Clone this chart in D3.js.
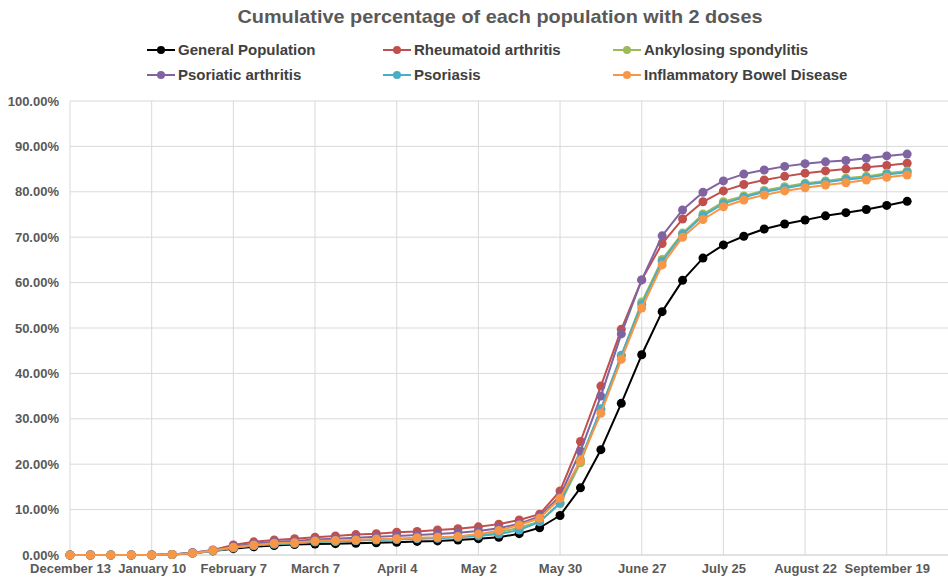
<!DOCTYPE html>
<html>
<head>
<meta charset="utf-8">
<script src="https://cdn.jsdelivr.net/npm/d3@7"></script>
<style>
  body { margin: 0; background: #fff; }
  text { font-family: "Liberation Sans", Arial, sans-serif; }
</style>
</head>
<body>
<div id="chart"></div>
<script>
// weekly categories (the last two carry no data)
const dates = ["December 13","December 20","December 27","January 3","January 10","January 17","January 24","January 31",
  "February 7","February 14","February 21","February 28","March 7","March 14","March 21","March 28",
  "April 4","April 11","April 18","April 25","May 2","May 9","May 16","May 23",
  "May 30","June 6","June 13","June 20","June 27","July 4","July 11","July 18",
  "July 25","August 1","August 8","August 15","August 22","August 29","September 5","September 12",
  "September 19","September 26","October 3","October 10"];

const generalPop = [0,0,0,0,0,0.1,0.4,0.9,1.4,1.8,2.1,2.3,2.4,2.5,2.6,2.7,2.8,3.0,3.1,3.3,3.6,3.9,4.7,6.0,
  8.7,14.8,23.2,33.4,44.1,53.6,60.5,65.4,68.3,70.2,71.8,72.9,73.8,74.7,75.4,76.1,77.0,77.9];
const rheumatoid = [0,0,0,0,0,0.1,0.5,1.1,2.2,2.9,3.3,3.6,3.9,4.2,4.5,4.7,5.0,5.2,5.5,5.8,6.2,6.8,7.7,9.0,
  14.1,25.0,37.2,49.7,60.6,68.6,74.0,77.8,80.2,81.6,82.6,83.4,84.1,84.6,85.0,85.4,85.8,86.3];
const ankylosing = [0,0,0,0,0,0.1,0.4,0.9,1.6,2.1,2.4,2.6,2.9,3.0,3.2,3.4,3.5,3.7,3.8,4.0,4.4,5.0,6.0,7.4,
  11.3,20.3,32.0,43.9,55.7,65.1,70.9,75.1,77.8,79.1,80.3,81.1,81.9,82.4,83.0,83.4,84.1,84.6];
const psoriaticArth = [0,0,0,0,0,0.1,0.5,1.0,1.9,2.5,2.9,3.1,3.4,3.6,3.8,4.0,4.2,4.4,4.6,4.9,5.3,5.9,6.9,8.5,
  13.0,22.9,35.0,48.7,60.6,70.3,76.0,79.9,82.4,83.9,84.8,85.6,86.2,86.6,86.9,87.4,87.9,88.3];
const psoriasis = [0,0,0,0,0,0.1,0.4,0.9,1.6,2.1,2.4,2.6,2.9,3.0,3.2,3.3,3.4,3.6,3.7,3.9,4.2,4.6,5.5,7.3,
  11.5,21.0,32.2,44.0,55.2,64.7,70.6,74.7,77.4,78.8,80.0,80.8,81.6,82.1,82.7,83.1,83.8,84.3];
const ibd = [0,0,0,0,0,0.1,0.4,1.0,1.7,2.2,2.6,2.7,3.1,3.2,3.3,3.5,3.6,3.8,3.9,4.1,4.6,5.4,6.6,8.1,
  12.5,20.8,31.2,43.1,54.4,63.9,70.0,73.9,76.7,78.2,79.3,80.2,80.9,81.5,82.0,82.6,83.2,83.7];

const seriesNames = ["General Population","Rheumatoid arthritis","Ankylosing spondylitis",
  "Psoriatic arthritis","Psoriasis","Inflammatory Bowel Disease"];
const seriesValues = [generalPop, rheumatoid, ankylosing, psoriaticArth, psoriasis, ibd];
const seriesColors = ["#000000","#C0504D","#9BBB59","#8064A2","#4BACC6","#F79646"];
const yTicks = [0,10,20,30,40,50,60,70,80,90,100];

function main(){
  const W = 948, H = 583;
  const margin = {top: 101, right: 0, bottom: 28, left: 70};
  const width = W - margin.left - margin.right;
  const height = H - margin.top - margin.bottom;

  const svg = d3.select("#chart")
    .append("svg")
    .attr("width", W)
    .attr("height", H);

  // title
  svg.append("text")
    .attr("x", 500)
    .attr("y", 23)
    .attr("text-anchor", "middle")
    .attr("font-size", 19)
    .attr("font-weight", "bold")
    .attr("fill", "#595959")
    .attr("textLength", 525)
    .attr("lengthAdjust", "spacingAndGlyphs")
    .text("Cumulative percentage of each population with 2 doses");

  // legend
  const legCols = [161, 397, 627];
  const legRows = [50, 75];
  const leg = svg.append("g");
  seriesNames.forEach((name, i) => {
    const cx = legCols[i % 3], cy = legRows[Math.floor(i / 3)];
    const g = leg.append("g");
    g.append("line")
      .attr("x1", cx - 14).attr("x2", cx + 14)
      .attr("y1", cy).attr("y2", cy)
      .attr("stroke", seriesColors[i])
      .attr("stroke-width", 2);
    g.append("circle")
      .attr("cx", cx).attr("cy", cy).attr("r", 4)
      .attr("fill", seriesColors[i]);
    g.append("text")
      .attr("x", cx + 17)
      .attr("y", cy + 5)
      .attr("font-size", 15)
      .attr("font-weight", "bold")
      .attr("fill", "#404040")
      .text(name);
  });

  const plot = svg.append("g")
    .attr("transform", `translate(${margin.left}, ${margin.top})`);

  const x = d3.scalePoint()
    .domain(d3.range(dates.length))
    .range([0, width]);

  const y = d3.scaleLinear()
    .domain([0, 100])
    .range([height, 0]);

  // gridlines
  plot.append("g")
    .selectAll("line")
    .data(yTicks)
    .join("line")
    .attr("x1", 0).attr("x2", width)
    .attr("y1", d => y(d)).attr("y2", d => y(d))
    .attr("stroke", "#d9d9d9")
    .attr("stroke-width", d => d === 0 ? 1.5 : 1);

  const xTickIdx = d3.range(0, dates.length, 4);
  plot.append("g")
    .selectAll("line")
    .data(xTickIdx)
    .join("line")
    .attr("x1", d => x(d)).attr("x2", d => x(d))
    .attr("y1", 0).attr("y2", height)
    .attr("stroke", "#d9d9d9")
    .attr("stroke-width", 1);

  // axes (labels only)
  const yAxis = plot.append("g")
    .call(d3.axisLeft(y).tickValues(yTicks).tickFormat(d => d.toFixed(2) + "%").tickSize(0).tickPadding(11));
  yAxis.select(".domain").remove();
  yAxis.selectAll("text")
    .attr("font-family", "Liberation Sans, Arial, sans-serif")
    .attr("font-size", 13)
    .attr("font-weight", "bold")
    .attr("fill", "#595959");

  const xAxis = plot.append("g")
    .attr("transform", `translate(0, ${height})`)
    .call(d3.axisBottom(x).tickValues(xTickIdx).tickFormat(i => dates[i]).tickSize(0).tickPadding(9));
  xAxis.select(".domain").remove();
  xAxis.selectAll("text")
    .attr("font-family", "Liberation Sans, Arial, sans-serif")
    .attr("font-size", 13)
    .attr("font-weight", "bold")
    .attr("fill", "#595959");

  // series
  const line = d3.line()
    .x((d, i) => x(i))
    .y(d => y(d));

  seriesValues.forEach((vals, s) => {
    const g = plot.append("g");
    g.append("path")
      .datum(vals)
      .attr("fill", "none")
      .attr("stroke", seriesColors[s])
      .attr("stroke-width", 2)
      .attr("stroke-linejoin", "round")
      .attr("d", line);
    g.selectAll("circle")
      .data(vals)
      .join("circle")
      .attr("cx", (d, i) => x(i))
      .attr("cy", d => y(d))
      .attr("r", 4.5)
      .attr("fill", seriesColors[s]);
  });
}

main();
</script>
</body>
</html>
